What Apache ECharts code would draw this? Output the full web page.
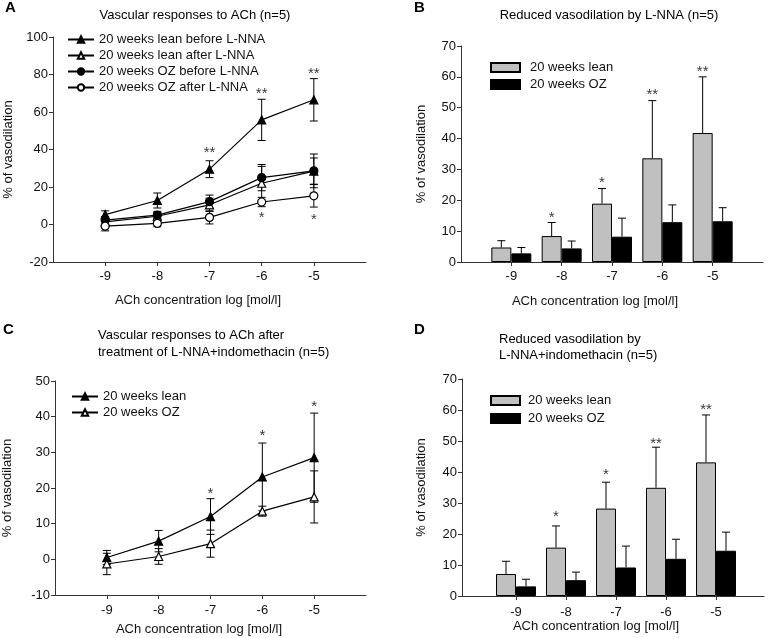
<!DOCTYPE html>
<html>
<head>
<meta charset="utf-8">
<script src="https://cdn.jsdelivr.net/npm/echarts@6/dist/echarts.min.js"></script>
<style>
html,body{margin:0;padding:0;background:#fff;}
.c{position:absolute;left:0;top:0;width:768px;height:638px;}
</style>
</head>
<body>
<div id="a" class="c"></div>
<div id="b" class="c"></div>
<div id="cc" class="c"></div>
<div id="d" class="c"></div>
<script>
// ---------- data ----------
const concentrations = [-9, -8, -7, -6, -5];
const xTickLabels = ['-9', '-8', '-7', '-6', '-5'];

// Panel A: Vascular responses to ACh (n=5)
const leanBeforeLNNA = [5.3, 12.8, 29.5, 55.8, 66.5];
const leanBeforeLNNAErr = [2.0, 4.0, 4.5, 11.0, 11.3];
const leanAfterLNNA = [1.4, 4.4, 10.5, 22.0, 28.5];
const leanAfterLNNAErr = [2.0, 2.0, 3.5, 9.0, 7.0];
const ozBeforeLNNA = [2.3, 5.0, 12.2, 25.0, 28.6];
const ozBeforeLNNAErr = [2.0, 2.0, 3.5, 7.0, 9.0];
const ozAfterLNNA = [-0.9, 0.6, 3.8, 12.0, 15.3];
const ozAfterLNNAErr = [2.5, 1.8, 3.5, 2.5, 6.0];
const starsA = [[-7, 40, '**'], [-6, 71.5, '**'], [-5, 82, '**'], [-6, 5, '*'], [-5, 4.3, '*']];

// Panel B: Reduced vasodilation by L-NNA (n=5)
const leanReducedB = [4.7, 8.4, 18.9, 33.6, 41.8];
const leanReducedBErr = [2.2, 4.4, 4.9, 18.7, 18.2];
const ozReducedB = [2.8, 4.4, 8.2, 12.9, 13.2];
const ozReducedBErr = [1.9, 2.4, 6.0, 5.6, 4.4];
const starsB = [[-8, 15.3, '*'], [-7, 26.7, '*'], [-6, 55.3, '**'], [-5, 62.5, '**']];

// Panel C: after L-NNA+indomethacin
const leanC = [0.5, 5.1, 12.0, 23.1, 28.5];
const leanCErr = [2.0, 3.0, 5.0, 9.5, 12.5];
const ozC = [-1.3, 0.8, 4.4, 13.5, 17.5];
const ozCErr = [3.0, 2.2, 3.8, 1.4, 7.3];
const starsC = [[-7, 19.3, '*'], [-6, 35.4, '*'], [-5, 43.5, '*']];

// Panel D: Reduced vasodilation by L-NNA+indomethacin
const leanReducedD = [7.1, 15.6, 28.2, 34.9, 43.1];
const leanReducedDErr = [4.1, 7.0, 8.5, 13.1, 15.3];
const ozReducedD = [3.1, 5.1, 9.2, 12.0, 14.6];
const ozReducedDErr = [2.3, 2.6, 6.9, 6.3, 6.0];
const starsD = [[-8, 26.4, '*'], [-7, 40.2, '*'], [-6, 50.2, '**'], [-5, 61, '**']];

// ---------- helpers ----------
const FONT = "'Liberation Sans', Arial, sans-serif";
const AX = '#333';
const TXT = '#111';

function pts(vals, errs) { return concentrations.map((x, i) => errs ? [x, vals[i], errs[i]] : [x, vals[i]]); }

function xAxisCfg(min, max, gap, pad, margin) {
  return {
    type: 'value', min: min, max: max,
    axisLine: { show: true, onZero: false, lineStyle: { color: AX, width: 1 } },
    axisTick: { show: true, length: 4, customValues: concentrations, lineStyle: { color: AX } },
    axisLabel: { customValues: concentrations, formatter: v => xTickLabels[concentrations.indexOf(v)] || '',
      color: TXT, fontSize: 13, fontFamily: FONT, margin: margin },
    splitLine: { show: false },
    name: 'ACh concentration log [mol/l]', nameLocation: 'middle', nameGap: gap,
    nameTextStyle: { color: TXT, fontSize: 13, fontFamily: FONT, padding: [0, pad, 0, 0] }
  };
}
function yAxisCfg(min, max, interval, gap) {
  return {
    type: 'value', min: min, max: max, interval: interval,
    axisLine: { show: true, onZero: false, lineStyle: { color: AX, width: 1 } },
    axisTick: { show: true, length: 4, lineStyle: { color: AX } },
    axisLabel: { color: TXT, fontSize: 13, fontFamily: FONT, margin: 5 },
    splitLine: { show: false },
    name: '% of vasodilation', nameLocation: 'middle', nameGap: gap,
    nameTextStyle: { color: TXT, fontSize: 13, fontFamily: FONT }
  };
}
function errSeries(vals, errs, offset, upOnly) {
  return {
    type: 'custom', z: 1, silent: true,
    data: pts(vals, errs),
    renderItem: function (params, api) {
      const x = api.value(0), y = api.value(1), e = api.value(2);
      const c = api.coord([x, y]);
      const hi = api.coord([x, y + e]);
      const lo = api.coord([x, y - e]);
      const px = c[0] + offset;
      const st = { stroke: '#000', lineWidth: 1 };
      const ch = [
        { type: 'line', shape: { x1: px, y1: hi[1], x2: px, y2: upOnly ? c[1] : lo[1] }, style: st },
        { type: 'line', shape: { x1: px - 4, y1: hi[1], x2: px + 4, y2: hi[1] }, style: st }
      ];
      if (!upOnly) ch.push({ type: 'line', shape: { x1: px - 4, y1: lo[1], x2: px + 4, y2: lo[1] }, style: st });
      return { type: 'group', children: ch };
    }
  };
}
function starSeries(stars, dx) {
  return {
    type: 'scatter', z: 5, silent: true, symbolSize: 1,
    itemStyle: { color: 'rgba(0,0,0,0)' },
    data: stars.map(s => ({ value: [s[0], s[1]], label: { formatter: s[2] } })),
    label: { show: true, position: 'inside', offset: [dx, 3], color: '#000', fontSize: 15, fontFamily: FONT }
  };
}
function lineSeries(name, vals, symbol, filled) {
  return {
    type: 'line', name: name, z: 3, data: pts(vals),
    symbol: symbol, symbolSize: 8,
    lineStyle: { color: '#000', width: 1.2 },
    itemStyle: { color: filled ? '#000' : '#fff', borderColor: '#000', borderWidth: 1.2 }
  };
}
function barSeries(name, vals, color) {
  return {
    type: 'bar', name: name, data: pts(vals), barWidth: 20, barGap: '0%', z: 2,
    itemStyle: { color: color, borderColor: '#000', borderWidth: 1 }
  };
}
function txt(x, y, text, opts) {
  return Object.assign({ type: 'text', x: x, y: y,
    style: Object.assign({ text: text, fill: '#000', font: '13px ' + FONT }, opts || {}) });
}

// ---------- Panel A ----------
echarts.init(document.getElementById('a')).setOption({
  animation: false,
  grid: { left: 53, top: 37, width: 313, height: 225 },
  xAxis: xAxisCfg(-10, -4, 32, 23, 8),
  yAxis: yAxisCfg(-20, 100, 20, 38),
  legend: {
    left: 62, top: 28, orient: 'vertical', itemGap: 3, itemWidth: 26, itemHeight: 8,
    textStyle: { color: TXT, fontSize: 13, fontFamily: FONT },
    data: ['20 weeks lean before L-NNA', '20 weeks lean after L-NNA', '20 weeks OZ before L-NNA', '20 weeks OZ after L-NNA']
  },
  graphic: [
    txt(5, 0, 'A', { font: 'bold 15px ' + FONT }),
    txt(195, 15, 'Vascular responses to ACh (n=5)', { textAlign: 'center', textVerticalAlign: 'middle' })
  ],
  series: [
    errSeries(leanBeforeLNNA, leanBeforeLNNAErr, 0, false),
    errSeries(leanAfterLNNA, leanAfterLNNAErr, 0, false),
    errSeries(ozBeforeLNNA, ozBeforeLNNAErr, 0, false),
    errSeries(ozAfterLNNA, ozAfterLNNAErr, 0, false),
    lineSeries('20 weeks lean before L-NNA', leanBeforeLNNA, 'triangle', true),
    lineSeries('20 weeks lean after L-NNA', leanAfterLNNA, 'triangle', false),
    lineSeries('20 weeks OZ before L-NNA', ozBeforeLNNA, 'circle', true),
    lineSeries('20 weeks OZ after L-NNA', ozAfterLNNA, 'circle', false),
    starSeries(starsA, 0)
  ]
});

// ---------- Panel B ----------
echarts.init(document.getElementById('b')).setOption({
  animation: false,
  grid: { left: 461, top: 46, width: 302, height: 216 },
  xAxis: xAxisCfg(-10, -4, 33, 34, 8),
  yAxis: yAxisCfg(0, 70, 10, 33),
  legend: {
    left: 485, top: 56, orient: 'vertical', itemGap: 4, itemWidth: 29, itemHeight: 9, icon: 'rect',
    textStyle: { color: TXT, fontSize: 13, fontFamily: FONT, padding: [0, 0, 0, 5] },
    data: ['20 weeks lean', '20 weeks OZ']
  },
  graphic: [
    txt(414, 0, 'B', { font: 'bold 15px ' + FONT }),
    txt(609, 15, 'Reduced vasodilation by L-NNA (n=5)', { textAlign: 'center', textVerticalAlign: 'middle' })
  ],
  series: [
    barSeries('20 weeks lean', leanReducedB, '#c0c0c0'),
    barSeries('20 weeks OZ', ozReducedB, '#000'),
    errSeries(leanReducedB, leanReducedBErr, -10, true),
    errSeries(ozReducedB, ozReducedBErr, 10, true),
    starSeries(starsB, -10)
  ]
});

// ---------- Panel C ----------
echarts.init(document.getElementById('cc')).setOption({
  animation: false,
  grid: { left: 53, top: 381, width: 313, height: 214 },
  xAxis: xAxisCfg(-10, -4, 28, 23, 9),
  yAxis: yAxisCfg(-10, 50, 10, 41),
  legend: {
    left: 66, top: 385, orient: 'vertical', itemGap: 3, itemWidth: 26, itemHeight: 8,
    textStyle: { color: TXT, fontSize: 13, fontFamily: FONT },
    data: ['20 weeks lean', '20 weeks OZ']
  },
  graphic: [
    txt(3, 322, 'C', { font: 'bold 15px ' + FONT }),
    txt(98, 327, 'Vascular responses to ACh after\ntreatment of L-NNA+indomethacin (n=5)', { lineHeight: 17 })
  ],
  series: [
    errSeries(leanC, leanCErr, 0, false),
    errSeries(ozC, ozCErr, 0, false),
    lineSeries('20 weeks lean', leanC, 'triangle', true),
    lineSeries('20 weeks OZ', ozC, 'triangle', false),
    starSeries(starsC, 0)
  ]
});

// ---------- Panel D ----------
echarts.init(document.getElementById('d')).setOption({
  animation: false,
  grid: { left: 462, top: 379, width: 302, height: 217 },
  xAxis: xAxisCfg(-10.08, -4.04, 22, 34, 10),
  yAxis: yAxisCfg(0, 70, 10, 34),
  legend: {
    left: 485, top: 389, orient: 'vertical', itemGap: 5, itemWidth: 29, itemHeight: 9, icon: 'rect',
    textStyle: { color: TXT, fontSize: 13, fontFamily: FONT, padding: [0, 0, 0, 3] },
    data: ['20 weeks lean', '20 weeks OZ']
  },
  graphic: [
    txt(414, 322, 'D', { font: 'bold 15px ' + FONT }),
    txt(499, 331, 'Reduced vasodilation by\nL-NNA+indomethacin (n=5)', { lineHeight: 16 })
  ],
  series: [
    barSeries('20 weeks lean', leanReducedD, '#c0c0c0'),
    barSeries('20 weeks OZ', ozReducedD, '#000'),
    errSeries(leanReducedD, leanReducedDErr, -10, true),
    errSeries(ozReducedD, ozReducedDErr, 10, true),
    starSeries(starsD, -10)
  ]
});
</script>
</body>
</html>
